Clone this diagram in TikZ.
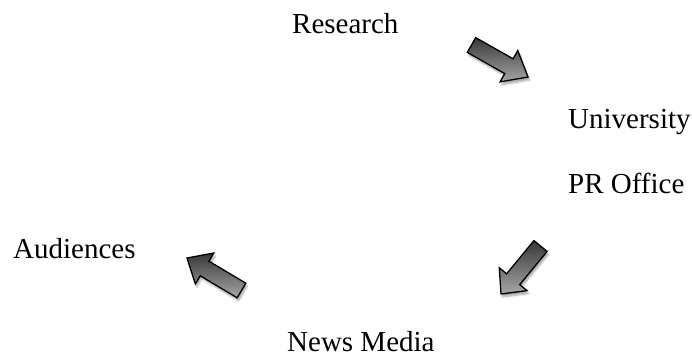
\documentclass[tikz,border=0pt]{standalone}
\usepackage{fontspec}
\setmainfont{Liberation Serif}
\usetikzlibrary{calc,shadows.blur}
\tikzset{
  lbl/.style={inner sep=0pt, anchor=base west, font=\fontsize{29bp}{35bp}\selectfont},
  blockarrow/.style={draw=black, line width=1.3bp, line join=miter,
    top color=black!78, bottom color=black!35,
    blur shadow={shadow xshift=1.5bp, shadow yshift=-3bp, shadow opacity=35, shadow blur steps=6}}
}
\newcommand{\blockarr}[2]{%
  \path ($(#1)!43bp!(#2)$) coordinate (s);
  \path[blockarrow]
    ($(#1)!8.5bp!90:(#2)$) -- ($(s)!8.5bp!90:(#2)$) -- ($(s)!18bp!90:(#2)$) -- (#2)
    -- ($(s)!18bp!-90:(#2)$) -- ($(s)!8.5bp!-90:(#2)$) -- ($(#1)!8.5bp!-90:(#2)$) -- cycle;
}
\begin{document}
\begin{tikzpicture}[x=1bp,y=-1bp]
\useasboundingbox (0,0) rectangle (692,356);
\node[lbl] (research) at (292,33) {Research};
\node[lbl] (univ) at (568,128) {University};
\node[lbl] (pr) at (568,193) {PR Office};
\node[lbl] (aud) at (13,258) {Audiences};
\node[lbl, text depth=0pt] (news) at (287,351) {News Media};
\coordinate (a1t) at (471.5,45);
\coordinate (a1h) at (528,77);
\coordinate (a2t) at (540.5,246);
\coordinate (a2h) at (501,294);
\coordinate (a3t) at (241.5,290.5);
\coordinate (a3h) at (187,258);
\blockarr{a1t}{a1h}
\blockarr{a2t}{a2h}
\blockarr{a3t}{a3h}
\end{tikzpicture}
\end{document}
